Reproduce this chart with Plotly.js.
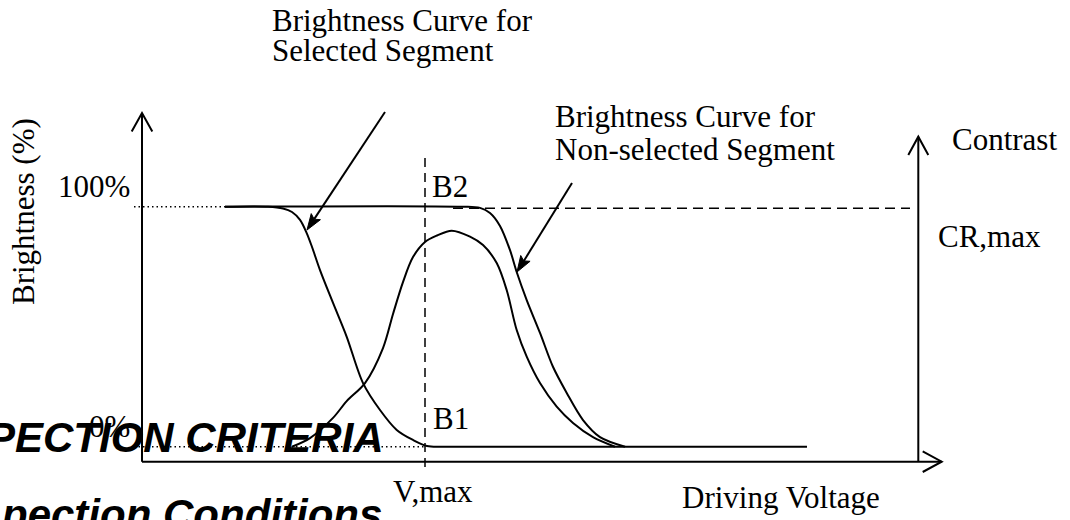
<!DOCTYPE html>
<html><head><meta charset="utf-8">
<script src="https://cdn.plot.ly/plotly-3.0.1.min.js"></script>
<style>html,body{margin:0;padding:0;background:#fff}#chart{width:1070px;height:520px}</style>
</head><body><div id="chart"></div>
<script>
// ---- Data (driving voltage in arbitrary units, V,max = 5; brightness in %) ----
const selectedV = [1.466, 2.226, 2.491, 2.650, 2.792, 2.910, 3.004, 3.145, 3.375, 3.617, 3.905, 4.205, 4.500, 4.788, 5.035, 5.353, 11.749];
const selectedB = [100, 100, 99.25, 97.8, 94.5, 89.0, 83.2, 73.6, 59.9, 45.8, 26.5, 15.3, 7.0, 2.8, 0.3, 0, 0];

const nonSelectedV = [1.466, 5.654, 5.972, 6.148, 6.325, 6.502, 6.620, 6.797, 7.032, 7.261, 7.504, 7.792, 8.092, 8.534];
const nonSelectedB = [100, 100, 99.5, 97.4, 92.0, 81.9, 72.8, 61.1, 47.4, 33.3, 22.4, 11.1, 4.0, 0];

const contrastV = [2.650, 2.968, 3.375, 3.617, 3.940, 4.258, 4.435, 4.611, 4.788, 5.0, 5.212, 5.472, 5.795, 6.025, 6.267, 6.443, 6.620, 6.797, 7.032, 7.327, 7.615, 7.968, 8.357];
const contrastB = [0, 3.6, 12.0, 19.0, 26.5, 41.1, 55.3, 68.6, 79.0, 85.3, 88.0, 90.0, 87.5, 84.0, 76.5, 65.3, 48.6, 37.5, 26.5, 16.7, 9.9, 4.0, 0];

const vMax = 5.0;          // V,max marker
const crMaxLevel = 99.4;   // CR,max level (dashed)
const levels = [0, 100];   // 0% and 100% brightness

// ---- Geometry of the figure ----
const W = 1070, H = 520;
const X0 = 142, XS = 56.6, Y0 = 446.7, YS = 2.4;
const toV = px => (px - X0) / XS;
const toB = py => (Y0 - py) / YS;
const pxV = v => X0 + v * XS;
const pyB = b => Y0 - b * YS;

const axisBase = toB(461.7);
const leftTop = toB(113);
const rightX = toV(918.3), rightTop = toB(136.7);
const bottomEnd = toV(941.7);

const shapes = [];
function line(x0, y0, x1, y1, w, dash) {
  shapes.push({type: 'line', xref: 'x', yref: 'y', x0, y0, x1, y1,
    line: {color: '#000', width: w, dash: dash || 'solid'}});
}
function pathPx(pts, closed, fill) {
  let d = pts.map((p, i) => (i ? 'L' : 'M') + toV(p[0]) + ',' + toB(p[1])).join(' ');
  if (closed) d += ' Z';
  shapes.push({type: 'path', xref: 'x', yref: 'y', path: d,
    fillcolor: fill || 'rgba(0,0,0,0)', line: {color: '#000', width: closed ? 1 : 2}});
}

// axes
line(0, axisBase, 0, leftTop, 2);
line(0, axisBase, bottomEnd, axisBase, 2);
line(rightX, axisBase, rightX, rightTop, 2);
// open chevron arrowheads
(function () {
  const lx = pxV(0), ly = pyB(leftTop);
  pathPx([[lx - 10.3, ly + 18.5], [lx, ly], [lx + 10.3, ly + 18.5]]);
  const rx = pxV(rightX), ry = pyB(rightTop);
  pathPx([[rx - 10, ry + 18.3], [rx, ry], [rx + 10, ry + 18.3]]);
  const bx = pxV(bottomEnd), by = pyB(axisBase);
  pathPx([[bx - 19, by - 10.3], [bx, by], [bx - 19, by + 10.3]]);
})();

// reference lines
line(toV(134), levels[1], selectedV[0], levels[1], 1.5, '1.5px,3px');
line(toV(134), levels[0], vMax, levels[0], 1.5, '1.5px,3px');
line(vMax, toB(158), vMax, toB(468), 1.5, '9px,6px');
line(toV(453), crMaxLevel, toV(910), crMaxLevel, 1.5, '10px,6px');

// pointer arrows (tail px, tip px)
function pointer(tail, tip) {
  const dx = tip[0] - tail[0], dy = tip[1] - tail[1];
  const L = Math.hypot(dx, dy), ux = dx / L, uy = dy / L;
  const hl = 16, hw = 5.5;
  const bx = tip[0] - ux * hl, by = tip[1] - uy * hl;
  line(toV(tail[0]), toB(tail[1]), toV(bx + ux * 3), toB(by + uy * 3), 2);
  pathPx([[tip[0], tip[1]], [bx - uy * hw, by + ux * hw], [bx + ux * 3, by + uy * 3], [bx + uy * hw, by - ux * hw]], true, '#000');
}
pointer([385, 112], [307, 230]);
pointer([572, 183], [517, 272]);

// ---- Text ----
const serif = 'Liberation Serif, Times New Roman, serif';
const sans = 'Liberation Sans, Arial, sans-serif';
const FS = 31;
const annotations = [];
function txt(s, xpx, basePx, anchor, fs, fam, angle) {
  const asc = fam === sans ? 0.905 : 0.891, desc = fam === sans ? 0.212 : 0.216;
  const mid = basePx - (asc - desc) / 2 * fs;
  annotations.push({text: s, xref: 'paper', yref: 'paper', x: xpx / W, y: 1 - mid / H,
    xanchor: anchor, yanchor: 'middle', showarrow: false, textangle: angle || 0,
    font: {family: fam, size: fs, color: '#000'}, borderpad: 0});
}
txt('Brightness Curve for', 271, 31, 'left', FS, serif);
txt('Selected Segment', 271, 61, 'left', FS, serif);
txt('Brightness Curve for', 554, 127, 'left', FS, serif);
txt('Non-selected Segment', 554, 160, 'left', FS, serif);
txt('100%', 131, 197, 'right', FS, serif);
txt('0%', 131, 437, 'right', FS, serif);
txt('B2', 431, 197, 'left', FS, serif);
txt('B1', 432, 429, 'left', FS, serif);
txt('V,max', 392, 502, 'left', FS, serif);
txt('Driving Voltage', 881, 508, 'right', FS, serif);
txt('Contrast', 951, 150, 'left', FS, serif);
txt('CR,max', 937, 247, 'left', FS, serif);
annotations.push({text: 'Brightness (%)', xref: 'paper', yref: 'paper', x: 23 / W, y: 1 - 212 / H,
  xanchor: 'center', yanchor: 'middle', showarrow: false, textangle: -90,
  font: {family: serif, size: FS, color: '#000'}});
txt('<b><i>PECTION CRITERIA</i></b>', 385, 452, 'right', 42, sans);
txt('<b><i>pection Conditions</i></b>', 383, 529, 'right', 42, sans);

const curve = (x, y) => ({x, y, type: 'scatter', mode: 'lines', hoverinfo: 'skip',
  line: {color: '#000', width: 2, shape: 'spline', smoothing: 0.9}});

Plotly.newPlot('chart', [curve(selectedV, selectedB), curve(nonSelectedV, nonSelectedB), curve(contrastV, contrastB)], {
  width: W, height: H, margin: {l: 0, r: 0, t: 0, b: 0},
  paper_bgcolor: '#fff', plot_bgcolor: '#fff', showlegend: false,
  xaxis: {range: [toV(0), toV(W)], visible: false, fixedrange: true},
  yaxis: {range: [toB(H), toB(0)], visible: false, fixedrange: true},
  shapes, annotations
}, {displayModeBar: false, staticPlot: true});
</script></body></html>
